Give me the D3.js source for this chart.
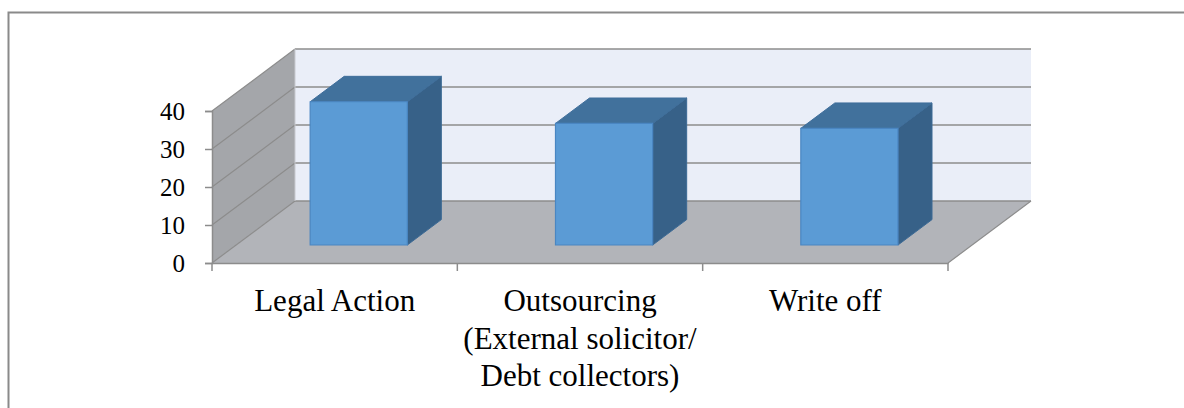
<!DOCTYPE html>
<html>
<head>
<meta charset="utf-8">
<script src="https://cdn.jsdelivr.net/npm/d3@7"></script>
<style>
  html, body { margin: 0; padding: 0; background: #ffffff; }
  svg { display: block; }
</style>
</head>
<body>
<svg id="chart" width="1184" height="408"></svg>
<script>
// ---- data ----
const categories = ["Legal Action", "Outsourcing", "Write off"];
const categoryLines = [
  ["Legal Action"],
  ["Outsourcing", "(External solicitor/", "Debt collectors)"],
  ["Write off"]
];
const values = [37.7, 32.0, 30.7];
const yTicks = [0, 10, 20, 30, 40];

// ---- layout ----
const svg = d3.select("#chart");
const X0 = 212, X1 = 948;       // front floor extent
const Y0 = 263, Y40 = 111;      // front value extent
const DX = 83, DY = -62;        // depth offset of walls
const Z0 = 0.29, Z1 = 0.70;     // bar depth range (fraction of depth)
const BAR_FRAC = 0.396;

const x = d3.scaleBand().domain(categories).range([X0, X1]).paddingInner(0).paddingOuter(0);
const y = d3.scaleLinear().domain([0, 40]).range([Y0, Y40]);
const P = (px, v, z) => [px + z * DX, y(v) + z * DY];
const poly = pts => "M" + pts.map(p => p.join(",")).join("L") + "Z";

// outer frame
svg.append("rect").attr("x", 8.5).attr("y", 12.5).attr("width", 1300).attr("height", 500)
  .attr("fill", "none").attr("stroke", "#8a8a8a").attr("stroke-width", 2);

const g = svg.append("g");

// back wall
g.append("path").attr("d", poly([P(X0, 0, 1), P(X1, 0, 1), P(X1, 40, 1), P(X0, 40, 1)]))
  .attr("fill", "#eaeef8");
// left wall
g.append("path").attr("d", poly([P(X0, 0, 0), P(X0, 0, 1), P(X0, 40, 1), P(X0, 40, 0)]))
  .attr("fill", "#a4a6aa");
// floor
g.append("path").attr("d", poly([P(X0, 0, 0), P(X1, 0, 0), P(X1, 0, 1), P(X0, 0, 1)]))
  .attr("fill", "#b2b4b9");

// gridlines: back wall + left wall
const gridColor = "#8c8c8c";
g.selectAll(".gb").data(yTicks).join("line")
  .attr("x1", d => P(X0, d, 1)[0]).attr("y1", d => P(X0, d, 1)[1])
  .attr("x2", d => P(X1, d, 1)[0]).attr("y2", d => P(X1, d, 1)[1])
  .attr("stroke", gridColor).attr("stroke-width", 1.5);
g.selectAll(".gl").data(yTicks).join("line")
  .attr("x1", d => P(X0, d, 0)[0]).attr("y1", d => P(X0, d, 0)[1])
  .attr("x2", d => P(X0, d, 1)[0]).attr("y2", d => P(X0, d, 1)[1])
  .attr("stroke", gridColor).attr("stroke-width", 1.2);
// left wall back edge
g.append("line")
  .attr("x1", P(X0, 0, 1)[0]).attr("y1", P(X0, 0, 1)[1])
  .attr("x2", P(X0, 40, 1)[0]).attr("y2", P(X0, 40, 1)[1])
  .attr("stroke", "#c8cad0").attr("stroke-width", 1);
// floor right edge
g.append("line")
  .attr("x1", P(X1, 0, 0)[0]).attr("y1", P(X1, 0, 0)[1])
  .attr("x2", P(X1, 0, 1)[0]).attr("y2", P(X1, 0, 1)[1])
  .attr("stroke", gridColor).attr("stroke-width", 1.2);

// bars
const data = categories.map((c, i) => ({ c, v: values[i] }));
const bars = g.selectAll(".bar").data(data).join("g").attr("class", "bar");
const bw = x.bandwidth() * BAR_FRAC;
const L = d => x(d.c) + x.bandwidth() / 2 - bw / 2;
const R = d => x(d.c) + x.bandwidth() / 2 + bw / 2;
bars.append("path") // right side
  .attr("d", d => poly([P(R(d), 0, Z0), P(R(d), 0, Z1), P(R(d), d.v, Z1), P(R(d), d.v, Z0)]))
  .attr("fill", "#376188").attr("stroke", "#3c6a95").attr("stroke-width", 1);
bars.append("path") // top
  .attr("d", d => poly([P(L(d), d.v, Z0), P(R(d), d.v, Z0), P(R(d), d.v, Z1), P(L(d), d.v, Z1)]))
  .attr("fill", "#41719c").attr("stroke", "#3f6e9b").attr("stroke-width", 1);
bars.append("path") // front
  .attr("d", d => poly([P(L(d), 0, Z0), P(R(d), 0, Z0), P(R(d), d.v, Z0), P(L(d), d.v, Z0)]))
  .attr("fill", "#5b9bd5").attr("stroke", "#4a86c2").attr("stroke-width", 1.2);

// y axis
const yAxis = d3.axisLeft(y).tickValues(yTicks).tickSize(7).tickPadding(20);
const ya = svg.append("g").attr("transform", `translate(${X0},0)`).call(yAxis);
ya.select(".domain").attr("stroke", gridColor).attr("stroke-width", 1.5);
ya.selectAll(".tick line").attr("stroke", gridColor).attr("stroke-width", 1.5);
ya.selectAll(".tick text").attr("font-family", "'Liberation Serif', 'Times New Roman', serif")
  .attr("font-size", 25).attr("fill", "#000");

// x axis (front floor edge + boundary ticks)
const xAxis = d3.axisBottom(x).tickSize(0).tickFormat(() => "");
const xa = svg.append("g").attr("transform", `translate(0,${Y0})`).call(xAxis);
xa.select(".domain").attr("stroke", gridColor).attr("stroke-width", 1.5);
const edges = categories.map(c => x(c)).concat([x(categories[categories.length - 1]) + x.bandwidth()]);
xa.selectAll(".edge").data(edges).join("line")
  .attr("x1", d => d).attr("x2", d => d).attr("y1", 0).attr("y2", 8)
  .attr("stroke", gridColor).attr("stroke-width", 1.5);
// category labels
xa.selectAll(".tick").each(function(d, i) {
  const t = d3.select(this).append("text")
    .attr("text-anchor", "middle")
    .attr("font-family", "'Liberation Serif', 'Times New Roman', serif")
    .attr("font-size", 31).attr("fill", "#000");
  categoryLines[i].forEach((line, j) => {
    t.append("tspan").attr("x", 0).attr("y", 48 + j * 37.5).text(line);
  });
});
</script>
</body>
</html>
